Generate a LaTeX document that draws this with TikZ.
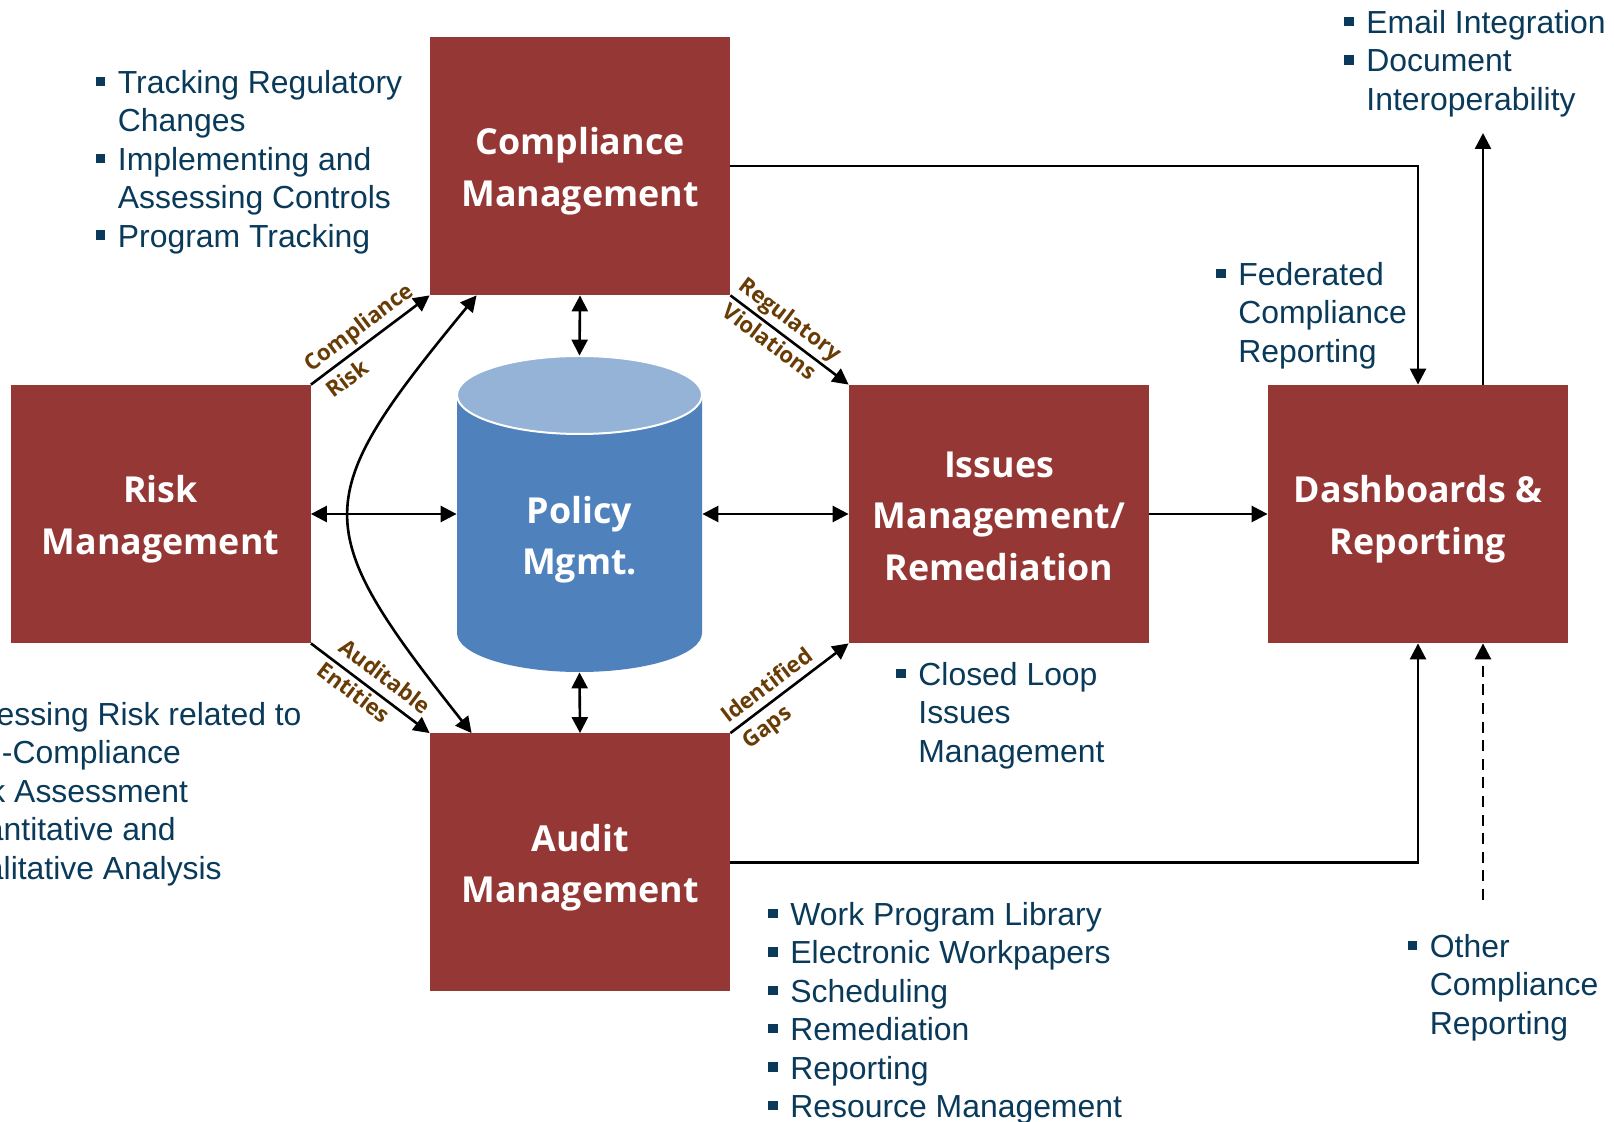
\documentclass[tikz,border=0pt]{standalone}
\usepackage{fontspec}
\setmainfont{Liberation Sans}
\newfontfamily\boxfont{Open Sans}
\usetikzlibrary{arrows.meta}
\definecolor{boxred}{HTML}{953735}
\definecolor{cylblue}{HTML}{4F81BD}
\definecolor{cyltop}{HTML}{95B3D7}
\definecolor{listblue}{HTML}{0A3A5A}
\definecolor{edgebrown}{HTML}{693C06}
\newcommand{\blt}{\llap{\raisebox{3.7pt}{\rule{4.7pt}{4.7pt}}\hspace{6.3pt}}}
\newcommand{\lift}[1]{\rule{0pt}{#1pt}}
\tikzset{
    >={Triangle[length=8pt,width=8pt]},
    conn/.style={line width=1.3pt},
    mgmt/.style={fill=boxred,text=white,minimum width=150pt,minimum height=129pt,inner sep=0pt,align=center,font=\boxfont\fontsize{17.9}{25.7}\selectfont\bfseries},
    bullets/.style={anchor=north west,inner sep=0pt,align=left,text=listblue,font=\fontsize{15.95}{19.2}\selectfont},
    edgelab/.style={sloped,inner sep=1.5pt,text=edgebrown,font=\boxfont\fontsize{11.1}{13}\selectfont\bfseries}
}
\begin{document}
\begin{tikzpicture}[x=0.5pt,y=-0.5pt]
    \useasboundingbox (0,0) rectangle (1614,1122);
    % boxes
    \node[mgmt] (comp) at (580,166) {\lift{19}Compliance\\Management};
    \node[mgmt] (risk) at (160.5,514) {\lift{19}Risk\\Management};
    \node[mgmt] (audit) at (580,862.5) {\lift{19}Audit\\Management};
    \node[mgmt] (issues) at (999,514) {\lift{15}Issues\\Management/\\Remediation};
    \node[mgmt] (dash) at (1418,514) {\lift{19}Dashboards \&\\Reporting};
    % cylinder
    \fill[cylblue] (457,395) -- (457,633) arc[start angle=180,end angle=360,x radius=61.25pt,y radius=19.5pt] -- (702,395) -- cycle;
    \draw[fill=cyltop,draw=white,line width=1pt] (579.5,395) ellipse[x radius=61.25pt,y radius=19.5pt];
    \node[minimum width=122.5pt,minimum height=158pt,inner sep=0pt,align=center,text=white,font=\boxfont\fontsize{17.9}{25.4}\selectfont\bfseries] (policy) at (579.5,514) {\lift{39}Policy\\Mgmt.};
    % free ends
    \coordinate (mailend) at (1483,133);
    \coordinate (otherstart) at (1483,900);
    % connectors
    \draw[conn,<->] (risk.east) -- (policy.west);
    \draw[conn,<->] (policy.east) -- (issues.west);
    \draw[conn,<->] (comp.south) -- (policy.north);
    \draw[conn,<->] (policy.south) -- (audit.north);
    \draw[conn,->] (issues.east) -- (dash.west);
    \draw[conn,->] (comp.east) -| (dash.north);
    \draw[conn,->] (audit.east) -| (dash.south);
    \draw[conn,->] (dash.north -| mailend) -- (mailend);
    \draw[conn,->,dash pattern=on 5.5pt off 3.8pt] (otherstart) -- (dash.south -| otherstart);
    \draw[conn,<->] ([xshift=23.5pt]comp.south west) .. controls (308,500) and (308,526) .. ([xshift=21pt]audit.north west);
    \draw[conn,->] (risk.north east) -- (comp.south west)
        node[edgelab,above,pos=0.49] (lbcomp) {Compliance}
        node[edgelab,below=2pt,pos=0.22] (lbrisk) {Risk};
    \draw[conn,->] (risk.south east) -- (audit.north west)
        node[edgelab,above=3pt,pos=0.53] (lbaudit) {Auditable}
        node[edgelab,below,pos=0.43] (lbent) {Entities};
    \draw[conn,->] (comp.south east) -- (issues.north west)
        node[edgelab,above,pos=0.42] (lbreg) {Regulatory}
        node[edgelab,below,pos=0.40] (lbviol) {Violations};
    \draw[conn,->] (audit.north east) -- (issues.south west)
        node[edgelab,above=2pt,pos=0.39] (lbid) {Identified}
        node[edgelab,below=2pt,pos=0.22] (lbgaps) {Gaps};
    % lists
    \node[bullets] (tracklist) at (117.5,70) {\blt Tracking Regulatory\\Changes\\\blt Implementing and\\Assessing Controls\\\blt Program Tracking};
    \node[bullets] (risklist) at (-57,702) {\blt Assessing Risk related to\\Non-Compliance\\\blt Risk Assessment\\\blt Quantitative and\\Qualitative Analysis};
    \node[bullets] (closedlist) at (918,662) {\blt Closed Loop\\Issues\\Management};
    \node[bullets] (worklist) at (790,902) {\blt Work Program Library\\\blt Electronic Workpapers\\\blt Scheduling\\\blt Remediation\\\blt Reporting\\\blt Resource Management};
    \node[bullets] (otherlist) at (1429.5,934) {\blt Other\\Compliance\\Reporting};
    \node[bullets] (fedlist) at (1238,262) {\blt Federated\\Compliance\\Reporting};
    \node[bullets] (maillist) at (1366,10) {\blt Email Integration\\\blt Document\\Interoperability};
\end{tikzpicture}
\end{document}
